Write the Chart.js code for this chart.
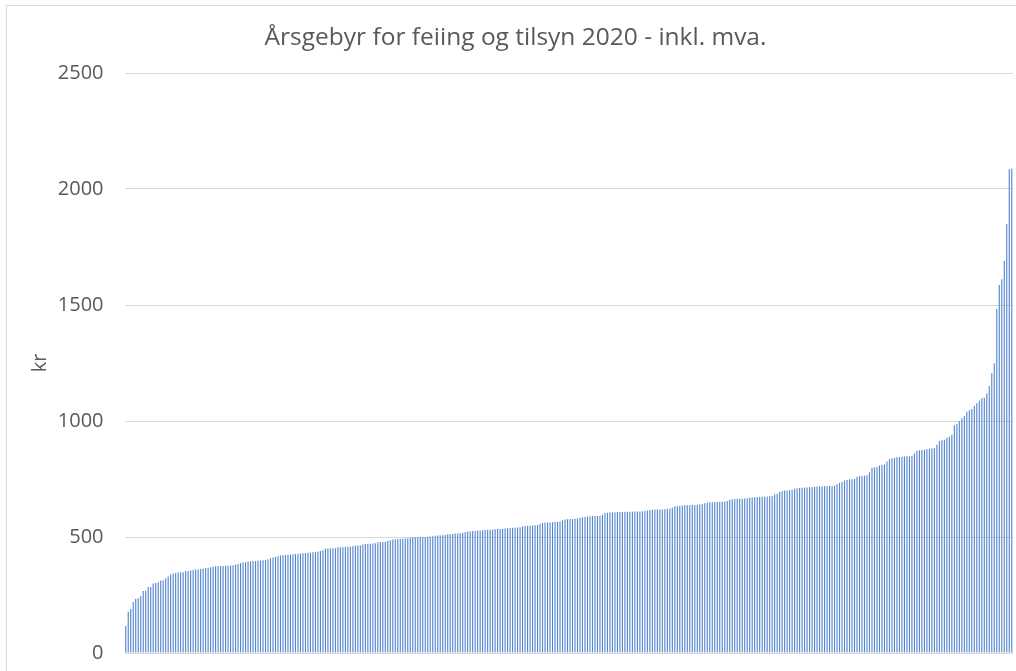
<!DOCTYPE html>
<html>
<head>
<meta charset="utf-8">
<title>Årsgebyr for feiing og tilsyn 2020</title>
<script src="https://cdn.jsdelivr.net/npm/chart.js@4.4.0/dist/chart.umd.min.js"></script>
<style>
  html, body { margin: 0; padding: 0; background: #fff; }
  #fee-chart { display: block; }
</style>
</head>
<body>
<canvas id="fee-chart" width="1016" height="671"></canvas>
<script>
// Annual fee (kr) per municipality, sorted ascending
const fees = [
    116, 178, 190, 220, 234, 236, 246, 267, 268, 284,
    285, 300, 302, 304, 312, 314, 322, 330, 338, 343,
    345, 347, 347, 348, 353, 353, 356, 358, 360, 360,
    362, 363, 365, 367, 370, 372, 374, 374, 375, 375,
    376, 376, 377, 378, 380, 384, 388, 391, 391, 394,
    395, 396, 397, 398, 399, 400, 401, 404, 408, 412,
    414, 417, 420, 421, 422, 424, 425, 426, 427, 428,
    429, 430, 431, 432, 433, 434, 435, 437, 440, 443,
    450, 450, 450, 451, 452, 456, 456, 456, 458, 458,
    458, 460, 463, 463, 463, 468, 470, 471, 471, 472,
    473, 476, 478, 478, 479, 483, 486, 489, 490, 491,
    491, 492, 493, 495, 497, 499, 499, 499, 500, 500,
    500, 501, 502, 503, 505, 506, 507, 508, 510, 512,
    512, 513, 515, 516, 516, 518, 522, 524, 525, 526,
    526, 527, 528, 529, 530, 531, 531, 532, 533, 534,
    535, 536, 537, 538, 539, 540, 540, 541, 542, 546,
    546, 547, 549, 550, 551, 552, 556, 560, 562, 562,
    563, 564, 566, 566, 567, 572, 575, 577, 578, 578,
    579, 580, 583, 585, 586, 588, 589, 590, 590, 590,
    591, 595, 603, 605, 606, 607, 607, 608, 608, 608,
    608, 609, 609, 609, 610, 610, 610, 611, 612, 614,
    616, 617, 618, 618, 618, 619, 620, 622, 622, 626,
    631, 633, 635, 636, 637, 637, 637, 638, 638, 639,
    640, 642, 646, 648, 650, 650, 651, 651, 652, 652,
    653, 655, 661, 663, 664, 665, 665, 665, 666, 667,
    669, 670, 671, 672, 673, 674, 674, 675, 676, 677,
    683, 686, 694, 698, 700, 700, 701, 704, 708, 710,
    711, 712, 712, 713, 714, 715, 717, 718, 718, 718,
    719, 719, 720, 720, 721, 727, 733, 737, 743, 746,
    748, 749, 750, 760, 762, 763, 764, 767, 779, 799,
    800, 802, 808, 810, 812, 825, 835, 838, 840, 844,
    845, 846, 847, 848, 848, 850, 860, 872, 874, 875,
    876, 878, 880, 881, 884, 898, 914, 917, 919, 928,
    932, 941, 982, 987, 999, 1012, 1021, 1040, 1046, 1052,
    1065, 1076, 1087, 1098, 1100, 1118, 1151, 1206, 1249, 1483,
    1586, 1611, 1690, 1849, 2085, 2088
];
const municipalities = fees.map((_, i) => 'Kommune ' + (i + 1));
const yMin = 0;
const yMax = 2500;
const yStep = 500;

const chartTitle = 'Årsgebyr for feiing og tilsyn 2020 - inkl. mva.';
const yTitle = 'kr';

const textColor = '#595959';
const gridColor = '#d9d9d9';
const fontFamily = '"Open Sans", "Liberation Sans", sans-serif';

// light frame around the chart, like the Excel chart border
const framePlugin = {
    id: 'frame',
    beforeDraw(chart) {
        const ctx = chart.ctx;
        ctx.save();
        ctx.strokeStyle = gridColor;
        ctx.lineWidth = 1;
        ctx.beginPath();
        ctx.moveTo(6.5, chart.height);
        ctx.lineTo(6.5, 5.5);
        ctx.lineTo(chart.width, 5.5);
        ctx.stroke();
        ctx.restore();
    }
};

const ctx = document.getElementById('fee-chart').getContext('2d');
new Chart(ctx, {
    type: 'bar',
    data: {
        labels: municipalities,
        datasets: [{
            label: 'Årsgebyr',
            data: fees,
            backgroundColor: '#5485cf',
            borderWidth: 0,
            barPercentage: 0.45,
            categoryPercentage: 1.0
        }]
    },
    options: {
        responsive: false,
        animation: false,
        // left padding moves the centred title a bit right, as in the original
        layout: { padding: { left: 18, right: 3, top: 0, bottom: 0 } },
        plugins: {
            legend: { display: false },
            tooltip: { enabled: false },
            title: {
                display: true,
                text: chartTitle,
                color: textColor,
                font: { family: fontFamily, size: 24.5, weight: 'normal' },
                padding: { top: 23, bottom: 20.6 }
            }
        },
        scales: {
            x: {
                grid: { display: false },
                border: { display: false },
                ticks: { display: false },
                afterFit(scale) { scale.height = 18; }
            },
            y: {
                min: yMin,
                max: yMax,
                ticks: {
                    stepSize: yStep,
                    color: textColor,
                    padding: 21,
                    font: { family: fontFamily, size: 20 },
                    callback: value => String(value)
                },
                grid: { color: gridColor, lineWidth: 1, drawTicks: false },
                border: { display: false },
                title: {
                    display: true,
                    text: yTitle,
                    color: textColor,
                    font: { family: fontFamily, size: 20 },
                    padding: { top: 10, bottom: 0 }
                },
                afterFit(scale) {
                    scale.width = 106.5;
                    // the tick padding should not push the plot area inwards
                    scale.paddingTop = 0;
                    scale.paddingBottom = 0;
                }
            }
        }
    },
    plugins: [framePlugin]
});
</script>
</body>
</html>
